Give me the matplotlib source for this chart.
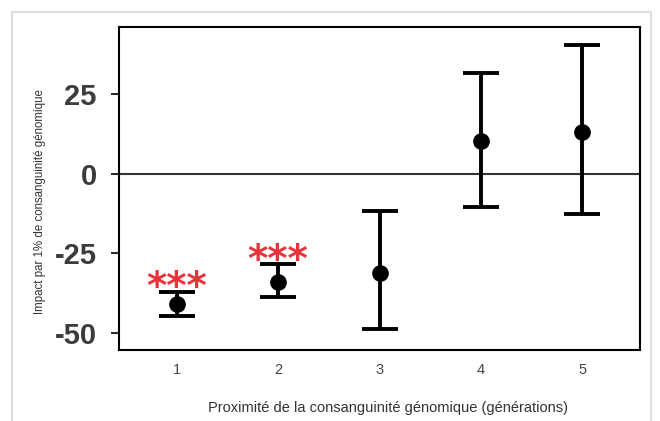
import matplotlib
matplotlib.use('Agg')
from matplotlib import pyplot as plt
from matplotlib.patches import Rectangle

# data
generations = [1, 2, 3, 4, 5]
impact = [-41, -34, -31, 10.3, 13]
ci_low = [-44.7, -38.7, -48.7, -10.6, -12.8]
ci_high = [-37, -28.4, -11.6, 31.6, 40.3]
signif = ['***', '***', '', '', '']

fig = plt.figure(figsize=(6.6, 4.21), dpi=100)
fig.patches.append(Rectangle((12 / 660, -0.02), 639 / 660, 1 - 12 / 421 + 0.02,
                             transform=fig.transFigure, fill=False,
                             edgecolor='#dddddd', linewidth=1.5))
ax = fig.add_axes([119 / 660, 1 - 350 / 421, 521 / 660, 323 / 421])

err_lo = [m - lo for m, lo in zip(impact, ci_low)]
err_hi = [hi - m for m, hi in zip(impact, ci_high)]
ax.axhline(0, color='#333333', linewidth=1.5, zorder=1)
ax.errorbar(generations, impact, yerr=[err_lo, err_hi], fmt='o', color='black',
            markersize=11, elinewidth=2.8, capsize=13, capthick=2.8, zorder=3)

for x, hi, s in zip(generations, ci_high, signif):
    if s:
        ax.text(x, hi - 4.8, s, color='#e8333b', fontsize=28, ha='center',
                va='bottom', fontweight='bold', family='DejaVu Sans')

ax.set_xlim(0.43, 5.57)
ax.set_ylim(-55.3, 46)
ax.set_xticks(generations)
ax.set_yticks([-50, -25, 0, 25])
ax.set_yticklabels(['-50', '-25', '0', '25'], family='Liberation Sans',
                   fontweight='bold', fontsize=21, color='#3c3c3c')
ax.set_xticklabels([str(g) for g in generations], family='Liberation Sans',
                   fontsize=10.5, color='#444444')
ax.tick_params(axis='y', length=6, width=1.2, pad=10)
ax.tick_params(axis='x', length=0, pad=9)
for sp in ax.spines.values():
    sp.set_linewidth(1.5)

ax.set_xlabel('Proximité de la consanguinité génomique (générations)',
              family='Liberation Sans', fontsize=10.5, color='#333333')
ax.xaxis.set_label_coords(0.516, -0.157)
ax.set_ylabel('Impact par 1% de consanguinité génomique',
              family='Liberation Sans', fontsize=8.3, color='#333333')
ax.yaxis.set_label_coords(-0.140, 0.46)

fig.savefig('out.png', dpi=100)
